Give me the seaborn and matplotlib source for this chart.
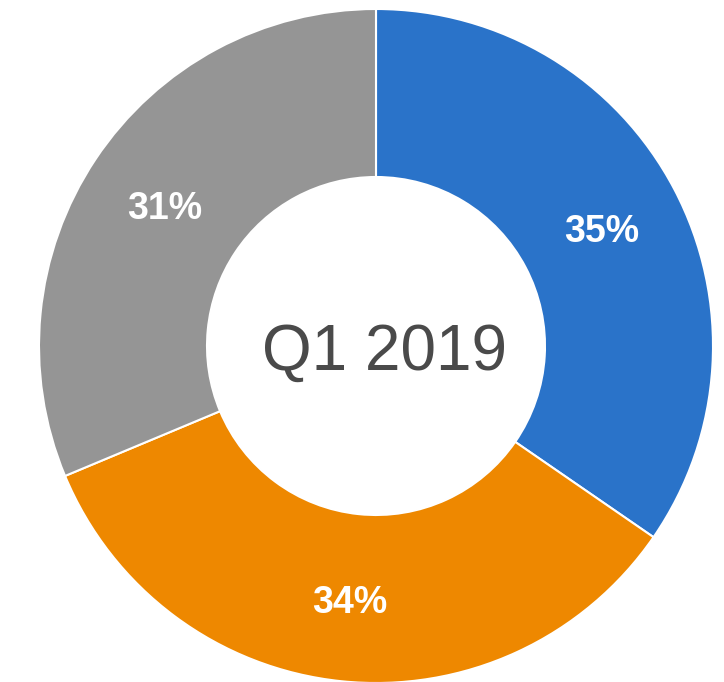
import seaborn as sns
import matplotlib.pyplot as plt

labels = ["Blue", "Orange", "Gray"]
shares = [34.6, 34.1, 31.3]
colors = ["#2A73C9", "#EE8800", "#959595"]
center_text = "Q1 2019"

sns.set_theme(style="white")
plt.rcParams['font.family'] = ['Liberation Sans', 'DejaVu Sans']

fig = plt.figure(figsize=(7.24, 6.82), dpi=100)
ax = fig.add_axes([0, 0, 1, 1])

wedges, texts, autotexts = ax.pie(
    shares, colors=sns.color_palette(colors), startangle=90, counterclock=False,
    center=(376, 336), radius=337, autopct=lambda p: f"{round(p)}%", pctdistance=0.755,
    wedgeprops=dict(width=168, edgecolor="white", linewidth=1.5),
    textprops=dict(color="white", fontsize=27, fontweight="bold"),
)
for t in autotexts:
    t.set_va("center_baseline")

ax.text(385, 336, center_text, ha="center", va="center_baseline",
        fontsize=46, color="#4A4A4A")

ax.set_xlim(0, 724)
ax.set_ylim(0, 682)
ax.set_aspect("equal")
ax.axis("off")
fig.savefig("out.png", dpi=100)
